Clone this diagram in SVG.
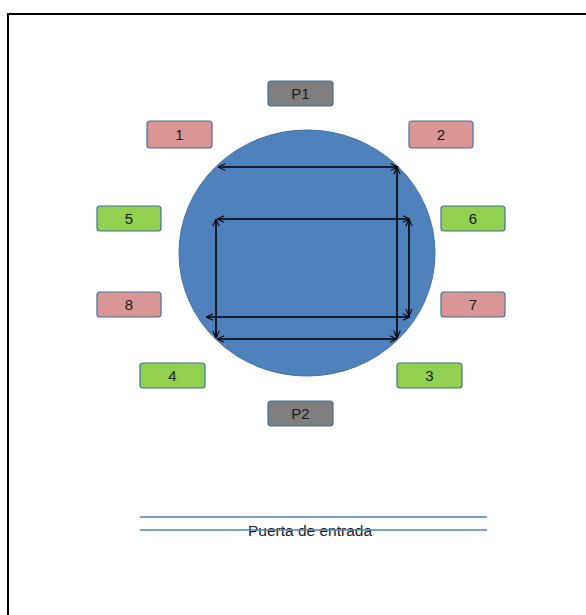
<svg xmlns="http://www.w3.org/2000/svg" width="586" height="615" viewBox="0 0 586 615">
<style>
.b{stroke:#41719C;stroke-width:1.2}
.pink{fill:#D99694}
.green{fill:#92D050}
.grey{fill:#7F7F7F}
.lbl{font-family:"Liberation Sans",Arial,sans-serif;font-size:15px;fill:#1a1a1a;text-anchor:middle}
.c{stroke:#000;stroke-width:1.6;fill:none;marker-start:url(#a);marker-end:url(#a)}
</style>
<defs>
<marker id="a" viewBox="0 0 10 10" refX="10" refY="5" markerWidth="8" markerHeight="8" orient="auto-start-reverse" markerUnits="userSpaceOnUse">
<path d="M1,1 L10,5 L1,9" fill="none" stroke="#000" stroke-width="1.3"/>
</marker>
</defs>
<rect width="586" height="615" fill="#fff"/>
<path d="M8,615 V14 H586" fill="none" stroke="#000" stroke-width="2"/>
<g id="table"><ellipse cx="307" cy="253" rx="128" ry="123" fill="#4F81BD" stroke="#41719C" stroke-width="1"/></g>
<g id="P1"><rect class="b grey" x="268" y="81" width="65" height="25" rx="3"/><text class="lbl" x="300.5" y="99">P1</text></g>
<g id="n1"><rect class="b pink" x="147" y="121" width="65" height="27" rx="3"/><text class="lbl" x="179.5" y="140">1</text></g>
<g id="n2"><rect class="b pink" x="409" y="121" width="64" height="27" rx="3"/><text class="lbl" x="441" y="140">2</text></g>
<g id="n5"><rect class="b green" x="97" y="206" width="64" height="25" rx="3"/><text class="lbl" x="129" y="224">5</text></g>
<g id="n6"><rect class="b green" x="441" y="206" width="64" height="25" rx="3"/><text class="lbl" x="473" y="224">6</text></g>
<g id="n8"><rect class="b pink" x="97" y="292" width="64" height="25" rx="3"/><text class="lbl" x="129" y="310">8</text></g>
<g id="n7"><rect class="b pink" x="441" y="292" width="64" height="25" rx="3"/><text class="lbl" x="473" y="310">7</text></g>
<g id="n4"><rect class="b green" x="140" y="363" width="65" height="25" rx="3"/><text class="lbl" x="172.5" y="381">4</text></g>
<g id="n3"><rect class="b green" x="397" y="363" width="65" height="25" rx="3"/><text class="lbl" x="429.5" y="381">3</text></g>
<g id="P2"><rect class="b grey" x="268" y="401" width="65" height="25" rx="3"/><text class="lbl" x="300.5" y="419">P2</text></g>
<g id="connectors">
<line class="c" x1="218" y1="167" x2="398" y2="167"/>
<line class="c" x1="397" y1="167" x2="397" y2="338"/>
<line class="c" x1="217" y1="219" x2="410" y2="219"/>
<line class="c" x1="216" y1="219" x2="216" y2="338"/>
<line class="c" x1="409" y1="219" x2="409" y2="316"/>
<line class="c" x1="206" y1="317" x2="410" y2="317"/>
<line class="c" x1="217" y1="339" x2="397" y2="339"/>
</g>
<g id="door">
<line x1="140" y1="517" x2="487" y2="517" stroke="#4F81BD" stroke-width="1.5"/>
<text x="310" y="536" font-family="'Liberation Sans',Arial,sans-serif" font-size="15.5px" fill="#1a1a1a" text-anchor="middle">Puerta de entrada</text>
<line x1="140" y1="530" x2="487" y2="530" stroke="#4F81BD" stroke-width="1.5"/>
</g>
</svg>
